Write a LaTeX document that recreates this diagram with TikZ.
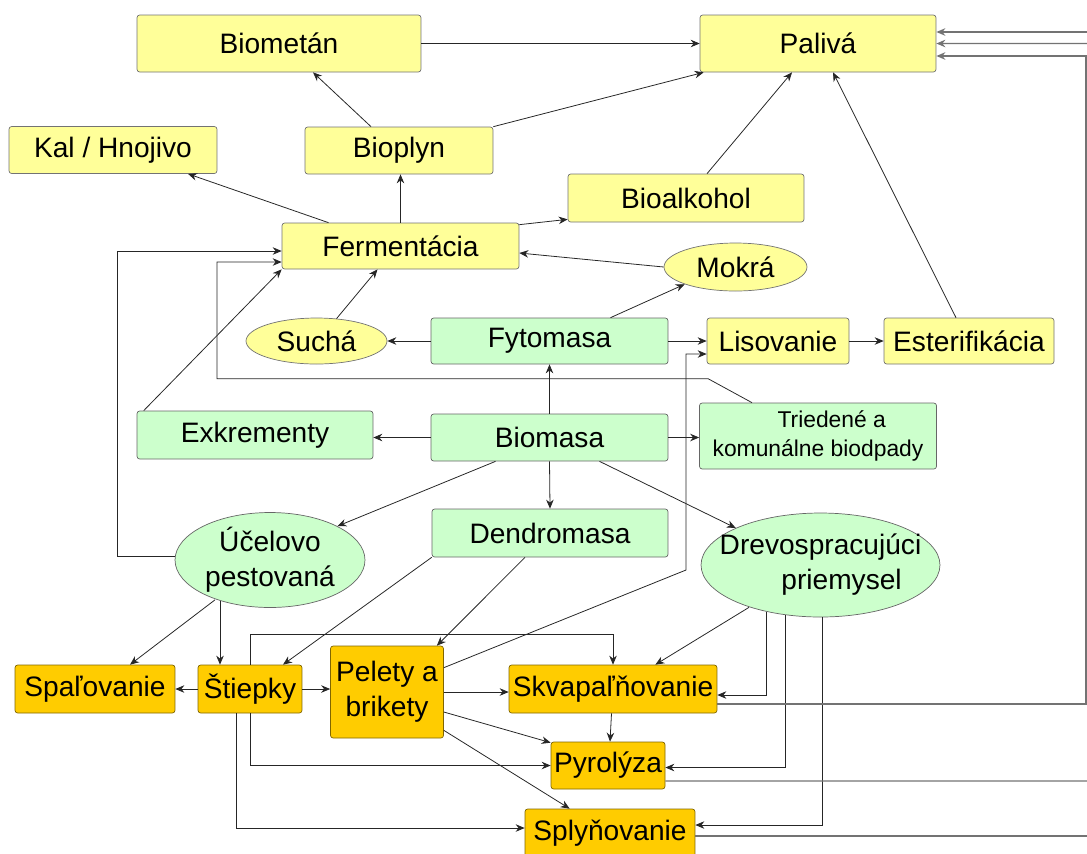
\documentclass[tikz,border=0pt]{standalone}
\usepackage{fontspec}
\setmainfont{Liberation Sans}
\usetikzlibrary{shapes.geometric,calc,arrows.meta}
\definecolor{zlta}{HTML}{FFFF99}
\definecolor{zelena}{HTML}{CCFFCC}
\definecolor{oranz}{HTML}{FFCC00}

\begin{document}
\begin{tikzpicture}[x=0.02cm,y=-0.02cm,font=\fontsize{16}{20}\selectfont,
    >={Stealth[length=0.18cm,width=0.15cm]}]

        \useasboundingbox (0,0) rectangle (1087,853);
        \clip (0,0) rectangle (1087,853);

        \begin{scope}[every node/.style={draw=black!55, fill=zlta, rounded corners=1.5pt, inner sep=0pt}]
          \node[minimum width=5.68cm, minimum height=1.14cm] (biometan) at (279,43.5)  {Biometán};
          \node[minimum width=4.72cm, minimum height=1.14cm] (paliva)   at (818,43.5)  {Palivá};
          \node[minimum width=4.16cm, minimum height=0.94cm] (kal)      at (113,150)   {Kal / Hnojivo};
          \node[minimum width=3.76cm, minimum height=0.94cm] (bioplyn)  at (399,150.5) {Bioplyn};
          \node[minimum width=4.74cm, minimum height=0.92cm] (ferm)     at (400.5,246) {Fermentácia};
          \node[minimum width=4.72cm, minimum height=0.96cm] (bioalk)   at (686,198)   {Bioalkohol};
          \node[minimum width=2.84cm, minimum height=0.92cm] (lisov)    at (778,341)   {Lisovanie};
          \node[minimum width=3.40cm, minimum height=0.92cm] (ester)    at (969,341)   {Esterifikácia};
          \node[ellipse, rounded corners=0pt, minimum width=2.86cm, minimum height=0.96cm] (mokra) at (735.5,267) {Mokrá};
          \node[ellipse, rounded corners=0pt, minimum width=2.82cm, minimum height=0.92cm] (sucha) at (316.5,341) {Suchá};
        \end{scope}

        \begin{scope}[every node/.style={draw=black!60, fill=zelena, rounded corners=1.5pt, inner sep=0pt}]
          \node[minimum width=4.74cm, minimum height=0.92cm] (fyto)    at (549.5,341)   {Fytomasa};
          \node[minimum width=4.72cm, minimum height=0.96cm] (exkr)    at (255,435)     {Exkrementy};
          \node[minimum width=4.74cm, minimum height=0.94cm] (biomasa) at (549.5,437.5) {Biomasa};
          \node[minimum width=4.74cm, minimum height=1.32cm, align=center,
                font=\fontsize{13}{17}\selectfont] (tried) at (818,436) {\hspace*{1.2em}Triedené a\\komunálne biodpady};
          \node[minimum width=4.72cm, minimum height=0.96cm] (dendro)  at (550,533)     {Dendromasa};
          \node[ellipse, rounded corners=0pt, minimum width=3.80cm, minimum height=1.90cm, align=center] (ucel)
                at (270,560) {Účelovo\\pestovaná};
          \node[ellipse, rounded corners=0pt, minimum width=4.78cm, minimum height=2.08cm] (drevo)
                at (820.5,565) {\makebox[0pt]{\begin{tabular}{@{}c@{}}Drevospracujúci\\\hspace*{1.5em}priemysel\end{tabular}}};
        \end{scope}

        \begin{scope}[every node/.style={draw=black!50!oranz, fill=oranz, rounded corners=1.5pt, inner sep=0pt}]
          \node[minimum width=3.20cm, minimum height=0.96cm] (spal)   at (95,689)    {Spaľovanie};
          \node[minimum width=2.08cm, minimum height=0.96cm] (stiep)  at (250,689)   {Štiepky};
          \node[minimum width=2.26cm, minimum height=1.84cm, align=center] (pelety) at (387,692) {Pelety a\\brikety};
          \node[minimum width=4.16cm, minimum height=0.96cm] (skvap)  at (613,689)   {Skvapaľňovanie};
          \node[minimum width=2.28cm, minimum height=0.94cm] (pyro)   at (608,765.5) {Pyrolýza};
          \node[minimum width=3.40cm, minimum height=0.96cm] (sply)   at (610,833)   {Splyňovanie};
        \end{scope}

        \begin{scope}[color=black!85, line width=0.45pt, ->, every edge/.style={draw, ->}]
          \path (biometan.east) edge (paliva.west);
          \path ($(bioplyn.north)+(-28,0)$) edge ($(biometan.south)+(34,0)$);
          \path (bioplyn.north east) edge ($(paliva.south west)+(4,0)$);
          \path ($(ferm.north)+(-72,0)$) edge ($(kal.south)+(75,0)$);
          \path (ferm.north) edge (ferm.north |- bioplyn.south);
          \path ($(ferm.north east)+(0,2)$) edge ($(bioalk.south west)+(0,-3)$);
          \path ($(bioalk.north)+(21,0)$) edge ($(paliva.south)+(-26,0)$);
          \path ($(ester.north)+(-13,0)$) edge ($(paliva.south)+(15,0)$);
          \path (mokra.west) edge ($(ferm.east)+(0,7)$);
          \path ($(fyto.north)+(61,0)$) edge (mokra.south west);
          \path ($(sucha.north)+(20,1)$) edge ($(ferm.south)+(-23,0)$);
          \path (fyto.west) edge (sucha.east);
          \path (fyto.east) edge (lisov.west);
          \path (lisov.east) edge (ester.west);
          \path (biomasa.north) edge (fyto.south);
          \path (biomasa.west) edge (biomasa.west -| exkr.east);
          \path (biomasa.east) edge (biomasa.east -| tried.west);
          \path (biomasa.south) edge (dendro.north);
          \path ($(biomasa.south)+(-54,0)$) edge (ucel.north east);
          \path ($(biomasa.south)+(50,0)$) edge (drevo.north west);
          \path ($(exkr.north west)+(7,0)$) edge (ferm.south west);
          \draw ($(ucel.west)+(0,-4)$) -- ++(-57,0) |- ($(ferm.west)+(0,5)$);
          \draw ($(tried.north)+(-66,0)$) -- ++(-44,-24) -- ++(-491,0) |- ($(ferm.west)+(0,16)$);
          \path ($(ucel.south)+(-55,-8)$) edge ($(spal.north)+(35,0)$);
          \path ($(ucel.south)+(-50,-7)$) edge ($(stiep.north)+(-30,0)$);
          \path (dendro.south west) edge ($(stiep.north)+(33,0)$);
          \path ($(dendro.south)+(-25,0)$) edge ($(pelety.north east)+(-7,0)$);
          \path (stiep.west) edge (spal.east);
          \path (stiep.east) edge (stiep.east -| pelety.west);
          \draw (stiep.north) -- ++(0,-30) -| (skvap.north);
          \draw (stiep.south) |- (pyro.west);
          \draw ($(stiep.south)+(-14,0)$) |- ($(sply.west)+(0,-5)$);
          \draw ($(pelety.north east)+(0,22)$) -- (686,570) |- ($(lisov.west)+(0,13)$);
          \path (pelety.east) edge (pelety.east -| skvap.west);
          \path ($(pelety.east)+(0,20)$) edge ($(pyro.north west)+(0,1)$);
          \path ($(pelety.south east)+(0,-8)$) edge ($(sply.north west)+(45,0)$);
          \path ($(skvap.south)+(-1.5,0)$) edge ($(pyro.north)+(2,0)$);
          \path ($(drevo.south)+(-71.5,-10)$) edge ($(skvap.north east)+(-62,0)$);
          \draw ($(drevo.south)+(-54.5,-5)$) |- ($(skvap.east)+(0,6)$);
          \draw ($(drevo.south)+(-35.5,-2)$) |- ($(pyro.east)+(0,2)$);
          \draw ($(drevo.south)+(2,0)$) |- ($(sply.east)+(0,-8)$);
        \end{scope}

        \begin{scope}[color=black!55, line width=0.8pt, ->]
          \draw ($(skvap.east)+(0,15)$) -- (1086,704) |- ($(paliva.east)+(0,12.5)$);
          \draw ($(pyro.east)+(0,15.5)$) -- (1094,781) |- (paliva.east);
          \draw ($(sply.east)+(0,3)$) -- (1102,836) |- ($(paliva.east)+(0,-11.5)$);
        \end{scope}

      \end{tikzpicture}
\end{document}
